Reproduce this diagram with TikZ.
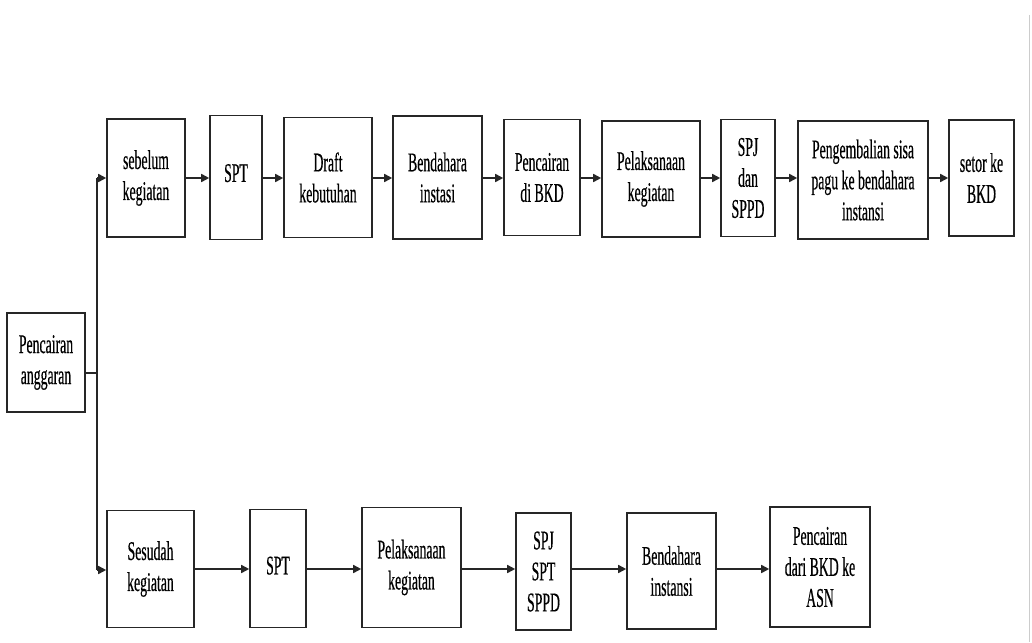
\documentclass[tikz,border=0pt]{standalone}
\usepackage{fontspec}
\setmainfont{Liberation Serif}[FakeStretch=0.51,FakeBold=0.4]
\usetikzlibrary{arrows.meta}
\begin{document}
\begin{tikzpicture}[x=1pt,y=-1pt,
  box/.style={draw=black!85,line width=1.6pt,inner sep=0pt,align=center,
    font=\fontsize{27}{31}\selectfont},
  arr/.style={line width=1.6pt,draw=black!85,-{Triangle[length=8pt,width=8pt]}},
  ln/.style={line width=1.6pt,draw=black!85}]
\useasboundingbox (0,0) rectangle (1032,642);
\fill[white] (0,0) rectangle (1032,642);
% scan edge
\draw[black!20,line width=1pt] (1029,15) -- (1029,642);
% source
\node[box,minimum width=78pt,minimum height=99pt] (pa) at (46,362.5) {Pencairan\\anggaran};
% top row
\node[box,minimum width=78pt,minimum height=118pt] (t1) at (146,178) {sebelum\\kegiatan};
\node[box,minimum width=52pt,minimum height=124pt] (t2) at (236,177.5) {\raisebox{9pt}{SPT}};
\node[box,minimum width=88pt,minimum height=120pt] (t3) at (328,177.5) {Draft\\kebutuhan};
\node[box,minimum width=89pt,minimum height=123pt] (t4) at (437.5,177.5) {Bendahara\\instasi};
\node[box,minimum width=76pt,minimum height=116pt] (t5) at (542,177.5) {Pencairan\\di BKD};
\node[box,minimum width=98pt,minimum height=116pt] (t6) at (651,179) {Pelaksanaan\\kegiatan};
\node[box,minimum width=54pt,minimum height=117pt] (t7) at (748,178) {SPJ\\dan\\SPPD};
\node[box,minimum width=130pt,minimum height=118pt] (t8) at (863,180) {Pengembalian sisa\\pagu ke bendahara\\instansi};
\node[box,minimum width=65pt,minimum height=116pt] (t9) at (981.5,178) {setor ke\\BKD};
% bottom row
\node[box,minimum width=87pt,minimum height=117pt] (b1) at (150.5,569) {Sesudah\\kegiatan};
\node[box,minimum width=56pt,minimum height=118pt] (b2) at (278,568.5) {\raisebox{6pt}{SPT}};
\node[box,minimum width=99pt,minimum height=120pt] (b3) at (411.5,567.5) {Pelaksanaan\\kegiatan};
\node[box,minimum width=55pt,minimum height=117pt] (b4) at (543.5,571.5) {SPJ\\SPT\\SPPD};
\node[box,minimum width=89pt,minimum height=116pt] (b5) at (671.5,571) {Bendahara\\instansi};
\node[box,minimum width=100pt,minimum height=120pt] (b6) at (820,567) {Pencairan\\dari BKD ke\\ASN};
% spine
\coordinate (top) at (97,178);
\coordinate (bot) at (97,570);
\coordinate (jn) at (97,373);
\draw[ln] (pa.east |- jn) -- (jn);
\draw[ln] (top) -- (bot);
\draw[arr] (top) -- (top -| t1.west);
\draw[arr] (bot) -- (bot -| b1.west);
% top arrows
\foreach \a/\b in {t1/t2,t2/t3,t3/t4,t4/t5,t5/t6,t6/t7,t7/t8,t8/t9}
  \draw[arr] (\a.east |- t1.center) -- (\b.west |- t1.center);
% bottom arrows
\foreach \a/\b in {b1/b2,b2/b3,b3/b4,b4/b5,b5/b6}
  \draw[arr] (\a.east |- b1.center) -- (\b.west |- b1.center);
\end{tikzpicture}
\end{document}
